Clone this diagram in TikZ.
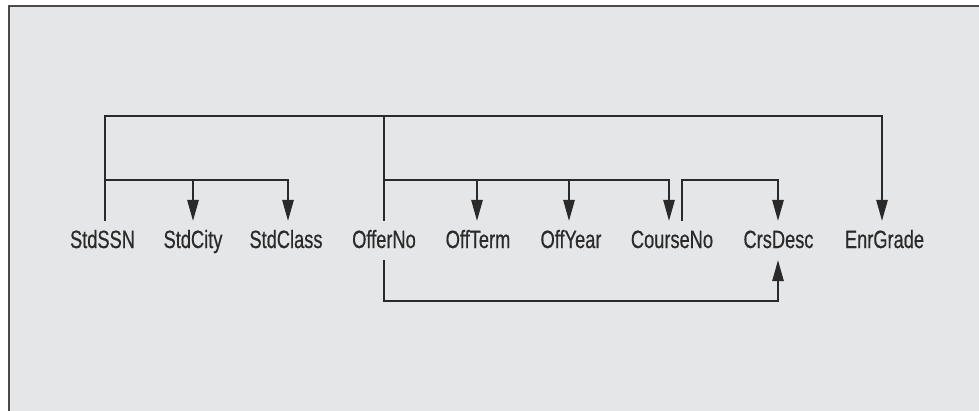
\documentclass[tikz,border=0pt]{standalone}
\usepackage{fontspec}
\setmainfont{Liberation Sans}[FakeStretch=0.73,FakeBold=0.5]
\usetikzlibrary{arrows.meta}
\definecolor{panel}{HTML}{E5E6E8}
\definecolor{ink}{HTML}{2A2A2A}
\begin{document}
\begin{tikzpicture}[x=1pt,y=-1pt,
  attr/.style={inner sep=0pt, anchor=base, text height=27pt, text depth=12pt,
               font=\fontsize{25}{30}\selectfont, text=ink},
  link/.style={draw=ink, line width=1.4pt},
  fd/.style={link, -{Triangle[length=21pt,width=11.5pt]}}]
  \useasboundingbox (0,0) rectangle (979,410);
  \clip (0,0) rectangle (979,410);
  % panel with its frame
  \fill[panel] (9,6) rectangle (990,420);
  \draw[ink!85, line width=1.6pt] (9,420) -- (9,6) -- (990,6);

  % attributes
  \node[attr] (ssn)   at (102.5,248) {StdSSN};
  \node[attr] (city)  at (193,248)   {StdCity};
  \node[attr] (class) at (286,248)   {StdClass};
  \node[attr] (offer) at (384,248)   {OfferNo};
  \node[attr] (term)  at (478,248)   {OffTerm};
  \node[attr] (year)  at (571,248)   {OffYear};
  \node[attr] (crs)   at (672,248)   {CourseNo};
  \node[attr] (desc)  at (778.5,248) {CrsDesc};
  \node[attr] (grade) at (884.5,248) {EnrGrade};

  % bus levels
  \coordinate (top) at (0,116);
  \coordinate (mid) at (0,180);
  \coordinate (low) at (0,301);

  % attachment points on the attributes
  \coordinate (ssnN)   at ([xshift=2.5pt]ssn.north);
  \coordinate (cityN)  at (city.north);
  \coordinate (classN) at ([xshift=2pt]class.north);
  \coordinate (offerN) at (offer.north);
  \coordinate (offerS) at (offer.south);
  \coordinate (termN)  at ([xshift=-1pt]term.north);
  \coordinate (yearN)  at ([xshift=-2pt]year.north);
  \coordinate (crsIn)  at ([xshift=-3pt]crs.north);
  \coordinate (crsOut) at ([xshift=10pt]crs.north);
  \coordinate (descN)  at ([xshift=-0.5pt]desc.north);
  \coordinate (descS)  at ([xshift=-0.5pt]desc.south);
  \coordinate (gradeN) at ([xshift=-2.5pt]grade.north);

  % StdSSN, OfferNo -> EnrGrade
  \draw[fd] (ssnN) -- (ssnN |- top) -- (gradeN |- top) -- (gradeN);
  \draw[link] (offerN) -- (offerN |- top);

  % StdSSN -> StdCity, StdClass
  \draw[fd] (ssnN |- mid) -- (classN |- mid) -- (classN);
  \draw[fd] (cityN |- mid) -- (cityN);

  % OfferNo -> OffTerm, OffYear, CourseNo
  \draw[fd] (offerN |- mid) -- (crsIn |- mid) -- (crsIn);
  \draw[fd] (termN |- mid) -- (termN);
  \draw[fd] (yearN |- mid) -- (yearN);

  % CourseNo -> CrsDesc
  \draw[fd] (crsOut) -- (crsOut |- mid) -- (descN |- mid) -- (descN);

  % OfferNo -> CrsDesc (below)
  \draw[fd] (offerS) -- (offerS |- low) -- (descS |- low) -- (descS);
\end{tikzpicture}
\end{document}
